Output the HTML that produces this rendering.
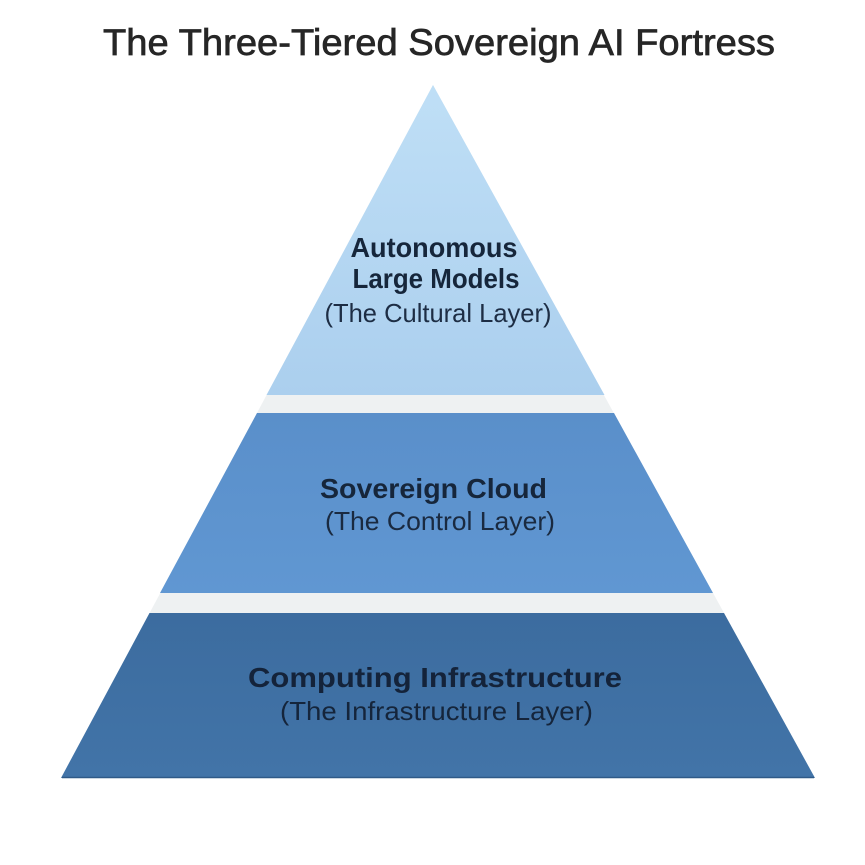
<!DOCTYPE html>
<html>
<head>
<meta charset="utf-8">
<style>
  html, body { margin: 0; padding: 0; background: #ffffff; }
  body { width: 865px; height: 865px; overflow: hidden; }
  svg { display: block; }
</style>
</head>
<body>
<svg width="865" height="865" viewBox="0 0 865 865" xmlns="http://www.w3.org/2000/svg">
  <defs>
    <linearGradient id="gTop" x1="0" y1="0" x2="0" y2="1">
      <stop offset="0" stop-color="#bfdff6"/>
      <stop offset="1" stop-color="#abcfee"/>
    </linearGradient>
    <linearGradient id="gMid" x1="0" y1="0" x2="0" y2="1">
      <stop offset="0" stop-color="#5a8fca"/>
      <stop offset="1" stop-color="#6097d2"/>
    </linearGradient>
    <linearGradient id="gBot" x1="0" y1="0" x2="0" y2="1">
      <stop offset="0" stop-color="#3c6c9f"/>
      <stop offset="1" stop-color="#4274a8"/>
    </linearGradient>
  </defs>

  <rect width="865" height="865" fill="#ffffff"/>

  <!-- Title -->
  <text x="439" y="55" text-anchor="middle" font-family="Liberation Sans, Arial, sans-serif" font-size="37" fill="#262626" stroke="#262626" stroke-width="0.7" textLength="672" lengthAdjust="spacingAndGlyphs">The Three-Tiered Sovereign AI Fortress</text>

  <!-- Gap band base (full triangle) -->
  <polygon points="433,85 61,778 815,778" fill="#eef1f2"/>

  <!-- Top tier -->
  <polygon points="433,85 266.5,395 604.5,395" fill="url(#gTop)"/>
  <!-- Middle tier -->
  <polygon points="257,413 614,413 713,593 160,593" fill="url(#gMid)"/>
  <!-- Bottom tier -->
  <polygon points="149.5,613 724,613 815,778 61,778" fill="url(#gBot)"/>
  <line x1="62" y1="777.5" x2="814" y2="777.5" stroke="#2f5a88" stroke-width="1.5"/>

  <!-- Top tier text -->
  <g font-family="Liberation Sans, Arial, sans-serif" fill="#16263b" text-anchor="middle">
    <text x="434" y="257" font-size="28" font-weight="bold" textLength="167" lengthAdjust="spacingAndGlyphs">Autonomous</text>
    <text x="436" y="288" font-size="28" font-weight="bold" textLength="167" lengthAdjust="spacingAndGlyphs">Large Models</text>
    <text x="438" y="322" font-size="26" fill="#1d2d44" textLength="227" lengthAdjust="spacingAndGlyphs">(The Cultural Layer)</text>

    <!-- Middle tier text -->
    <text x="433.5" y="498" font-size="28" font-weight="bold" textLength="227" lengthAdjust="spacingAndGlyphs">Sovereign Cloud</text>
    <text x="440" y="530" font-size="26" fill="#1a2a40" textLength="230" lengthAdjust="spacingAndGlyphs">(The Control Layer)</text>

    <!-- Bottom tier text -->
    <text x="435" y="687" font-size="28" font-weight="bold" fill="#14233a" textLength="374" lengthAdjust="spacingAndGlyphs">Computing Infrastructure</text>
    <text x="436.5" y="720" font-size="26" fill="#15253b" textLength="313" lengthAdjust="spacingAndGlyphs">(The Infrastructure Layer)</text>
  </g>
</svg>
</body>
</html>
